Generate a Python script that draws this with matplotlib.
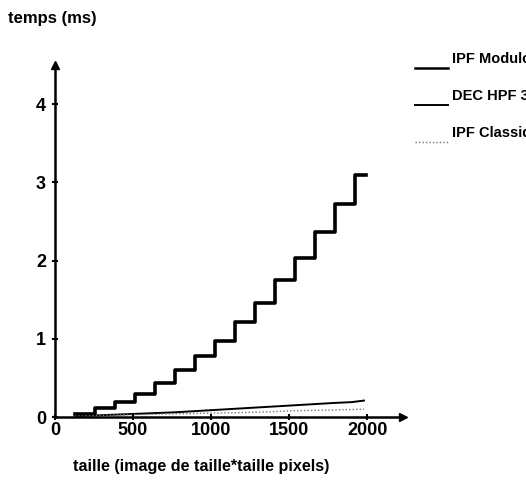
import matplotlib.pyplot as plt
from matplotlib.lines import Line2D

plt.rcParams["font.family"] = ["Liberation Sans", "DejaVu Sans"]
plt.rcParams["font.weight"] = "bold"

# IPF Modulo: step curve (image size -> time in ms)
taille_mod = [128, 256, 384, 512, 640, 768, 896, 1024, 1152, 1280,
              1408, 1536, 1664, 1792, 1920, 1990]
temps_mod = [0.04, 0.11, 0.19, 0.30, 0.44, 0.60, 0.78, 0.97, 1.21, 1.46,
             1.75, 2.03, 2.37, 2.72, 3.10, 3.10]

# DEC HPF 3
taille_dec = [128, 256, 512, 768, 1024, 1280, 1536, 1792, 1900, 1980]
temps_dec = [0.01, 0.02, 0.04, 0.06, 0.09, 0.12, 0.15, 0.18, 0.19, 0.21]

# IPF Classique
taille_cla = [128, 256, 512, 768, 1024, 1280, 1536, 1792, 1980]
temps_cla = [0.01, 0.02, 0.03, 0.04, 0.05, 0.06, 0.08, 0.09, 0.10]

labels = ["IPF Modulo", "DEC HPF 3", "IPF Classique"]
xticks = [0, 500, 1000, 1500, 2000]
yticks = [0, 1, 2, 3, 4]

fig = plt.figure(figsize=(5.26, 4.86), dpi=100)
ax = fig.add_axes([55 / 526, 1 - 417 / 486, 348 / 526, 352 / 486])

ax.step(taille_mod, temps_mod, where="post", color="black", lw=2.6)
ax.plot(taille_dec, temps_dec, color="black", lw=1.4)
ax.plot(taille_cla, temps_cla, color="0.45", lw=1.0, ls=(0, (1, 1.5)))

ax.set_xlim(0, 2230)
ax.set_ylim(0, 4.5)
ax.set_xticks(xticks)
ax.set_yticks(yticks)
ax.tick_params(direction="inout", length=5, width=1.5, labelsize=13)
ax.tick_params(axis="x", pad=1)
ax.tick_params(axis="y", pad=4)
for s in ["top", "right"]:
    ax.spines[s].set_visible(False)
for s in ["left", "bottom"]:
    ax.spines[s].set_linewidth(1.8)

# arrow heads on the axes
ax.plot(1, 0, ">k", ms=6, transform=ax.get_yaxis_transform(), clip_on=False)
ax.plot(0, 1, "^k", ms=6, transform=ax.get_xaxis_transform(), clip_on=False)

fig.text(8 / 526, 1 - 18 / 486, "temps (ms)", fontsize=12, va="center")
fig.text(73 / 526, 1 - 466 / 486, "taille (image de taille*taille pixels)",
         fontsize=11.6, va="center")

# legend, drawn at the right edge as in the original
styles = [dict(color="black", lw=1.8),
          dict(color="black", lw=1.4),
          dict(color="0.45", lw=1.0, ls=(0, (1, 1.5)))]
for i, (lab, st) in enumerate(zip(labels, styles)):
    y = 1 - (66 + i * 37) / 486
    fig.add_artist(Line2D([415 / 526, 448 / 526], [y - 0.004, y - 0.004], **st))
    fig.text(452 / 526, y, lab, fontsize=10.5, va="bottom")

fig.savefig("out.png", dpi=100)
